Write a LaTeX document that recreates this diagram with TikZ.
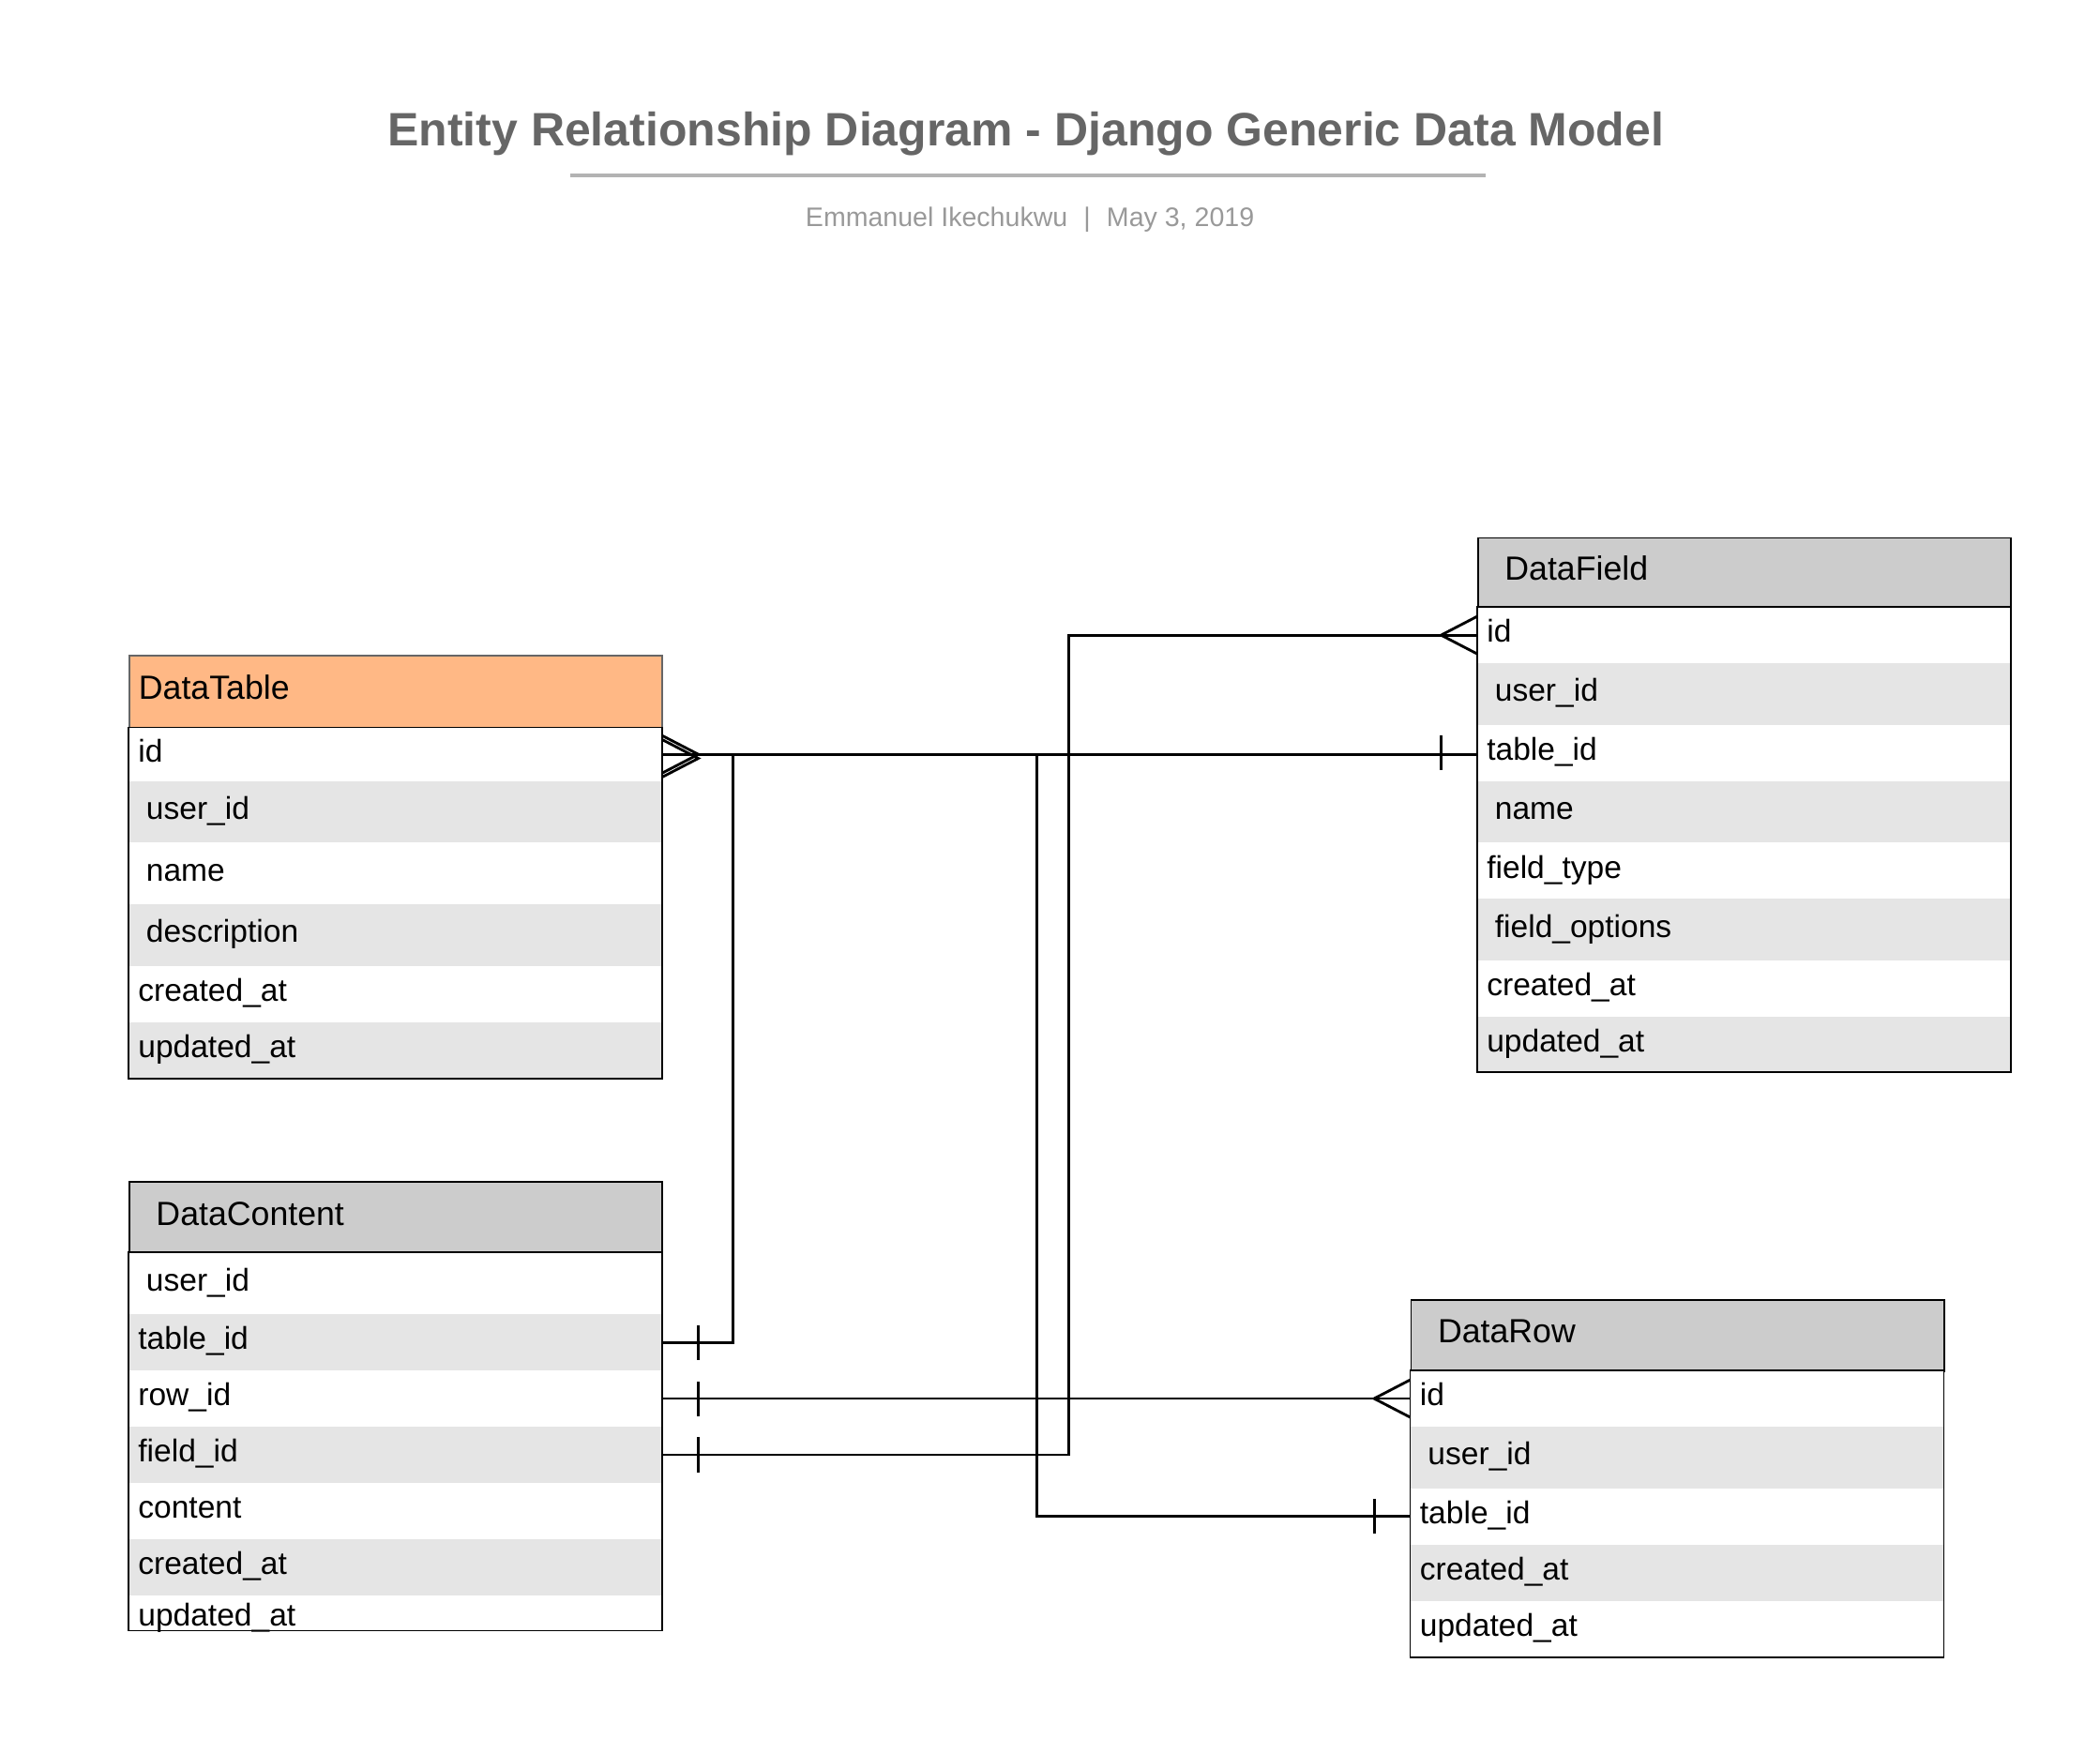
\documentclass[tikz,border=0pt]{standalone}
\usepackage{fontspec}
\setmainfont{Liberation Sans}
\definecolor{ertitle}{HTML}{666666}
\definecolor{errule}{HTML}{B3B3B3}
\definecolor{ersub}{HTML}{999999}
\definecolor{erhead}{HTML}{CCCCCC}
\definecolor{erorange}{HTML}{FFB885}
\definecolor{erstripe}{HTML}{E5E5E5}
\usetikzlibrary{calc}

\begin{document}
\begin{tikzpicture}[x=1pt, y=-1pt,
  field/.style={anchor=north west, minimum width=398pt, text width=384pt, inner xsep=7pt, inner ysep=0pt,
    align=left, text height=11pt, text depth=0pt, font=\fontsize{23.5}{26}\selectfont},
  plain/.style={field, fill=white},
  stripe/.style={field, fill=erstripe},
  head/.style={field, fill=erhead, draw=black, line width=1.2pt, font=\fontsize{25}{28}\selectfont},
  body/.style={line width=1.2pt},
  link/.style={line width=2pt},
  crowfoot/.pic={\draw[link] (0,-14) -- (-27,0) -- (0,14);},
  onebar/.pic={\draw[link] (-27,-13) -- (-27,13);}]
\useasboundingbox (0,0) rectangle (1568,1309);
% Title
\node[font=\fontsize{35}{40}\selectfont\bfseries, ertitle] (title) at (766,100) {Entity Relationship Diagram - Django Generic Data Model};
\draw[errule, line width=3pt] (426,131) -- (1109,131);
\node[font=\fontsize{20}{24}\selectfont, ersub] (author) at (769,164) {Emmanuel Ikechukwu\hspace{12pt}|\hspace{12pt}May 3, 2019};
% DataTable
\node[head, fill=erorange, draw=ertitle, minimum height=54pt] (dt-head) at (96,489) {DataTable};
\node[plain, minimum height=40pt] (dt-id) at (96,543) {id};
\node[stripe, minimum height=46pt] (dt-user) at (96,583) {\hspace{6pt}user\_id};
\node[plain, minimum height=46pt] (dt-name) at (96,629) {\hspace{6pt}name};
\node[stripe, minimum height=46pt] (dt-desc) at (96,675) {\hspace{6pt}description};
\node[plain, minimum height=42pt] (dt-created) at (96,721) {created\_at};
\node[stripe, minimum height=42pt] (dt-updated) at (96,763) {updated\_at};
\draw[body] (dt-id.north west) rectangle (dt-updated.south east);
% DataContent
\node[head, minimum height=53pt] (dc-head) at (96,882) {\hspace{13pt}DataContent};
\node[plain, minimum height=46pt] (dc-user) at (96,935) {\hspace{6pt}user\_id};
\node[stripe, minimum height=42pt] (dc-table) at (96,981) {table\_id};
\node[plain, minimum height=42pt] (dc-row) at (96,1023) {row\_id};
\node[stripe, minimum height=42pt] (dc-field) at (96,1065) {field\_id};
\node[plain, minimum height=42pt] (dc-content) at (96,1107) {content};
\node[stripe, minimum height=42pt] (dc-created) at (96,1149) {created\_at};
\node[plain, minimum height=26pt, text height=19pt] (dc-updated) at (96,1191) {updated\_at};
\draw[body] (dc-user.north west) rectangle (dc-updated.south east);
% DataField
\node[head, minimum height=52pt] (df-head) at (1103,401) {\hspace{13pt}DataField};
\node[plain, minimum height=42pt] (df-id) at (1103,453) {id};
\node[stripe, minimum height=46pt] (df-user) at (1103,495) {\hspace{6pt}user\_id};
\node[plain, minimum height=42pt] (df-table) at (1103,541) {table\_id};
\node[stripe, minimum height=46pt] (df-name) at (1103,583) {\hspace{6pt}name};
\node[plain, minimum height=42pt] (df-type) at (1103,629) {field\_type};
\node[stripe, minimum height=46pt] (df-options) at (1103,671) {\hspace{6pt}field\_options};
\node[plain, minimum height=42pt] (df-created) at (1103,717) {created\_at};
\node[stripe, minimum height=41pt] (df-updated) at (1103,759) {updated\_at};
\draw[body] (df-id.north west) rectangle (df-updated.south east);
% DataRow
\node[head, minimum height=53pt] (dr-head) at (1053,970) {\hspace{13pt}DataRow};
\node[plain, minimum height=42pt] (dr-id) at (1053,1023) {id};
\node[stripe, minimum height=46pt] (dr-user) at (1053,1065) {\hspace{6pt}user\_id};
\node[plain, minimum height=42pt] (dr-table) at (1053,1111) {table\_id};
\node[stripe, minimum height=42pt] (dr-created) at (1053,1153) {created\_at};
\node[plain, minimum height=42pt] (dr-updated) at (1053,1195) {updated\_at};
\draw[body] (dr-id.north west) rectangle (dr-updated.south east);
% Relations
\draw[link] (dt-id.east) -- (dt-id.east -| df-table.west);
\draw[link] (dt-id.east) -- ++(53,0) |- (dc-table.east);
\draw[link] (dt-id.east) -- ++(280,0) |- (dr-table.west);
\draw[link] (df-id.west) -- ++(-305,0) |- (dc-field.east);
\draw[link] (dr-id.west) -- (dc-row.east);
% Ends
\pic[rotate=180] at (dt-id.east) {crowfoot};
\pic[rotate=180, yshift=3pt] at (dt-id.east) {crowfoot};
\pic at (df-id.west) {crowfoot};
\pic at (dr-id.west) {crowfoot};
\pic at (df-table.west) {onebar};
\pic at (dr-table.west) {onebar};
\pic[rotate=180] at (dc-table.east) {onebar};
\pic[rotate=180] at (dc-row.east) {onebar};
\pic[rotate=180] at (dc-field.east) {onebar};
\end{tikzpicture}
\end{document}
